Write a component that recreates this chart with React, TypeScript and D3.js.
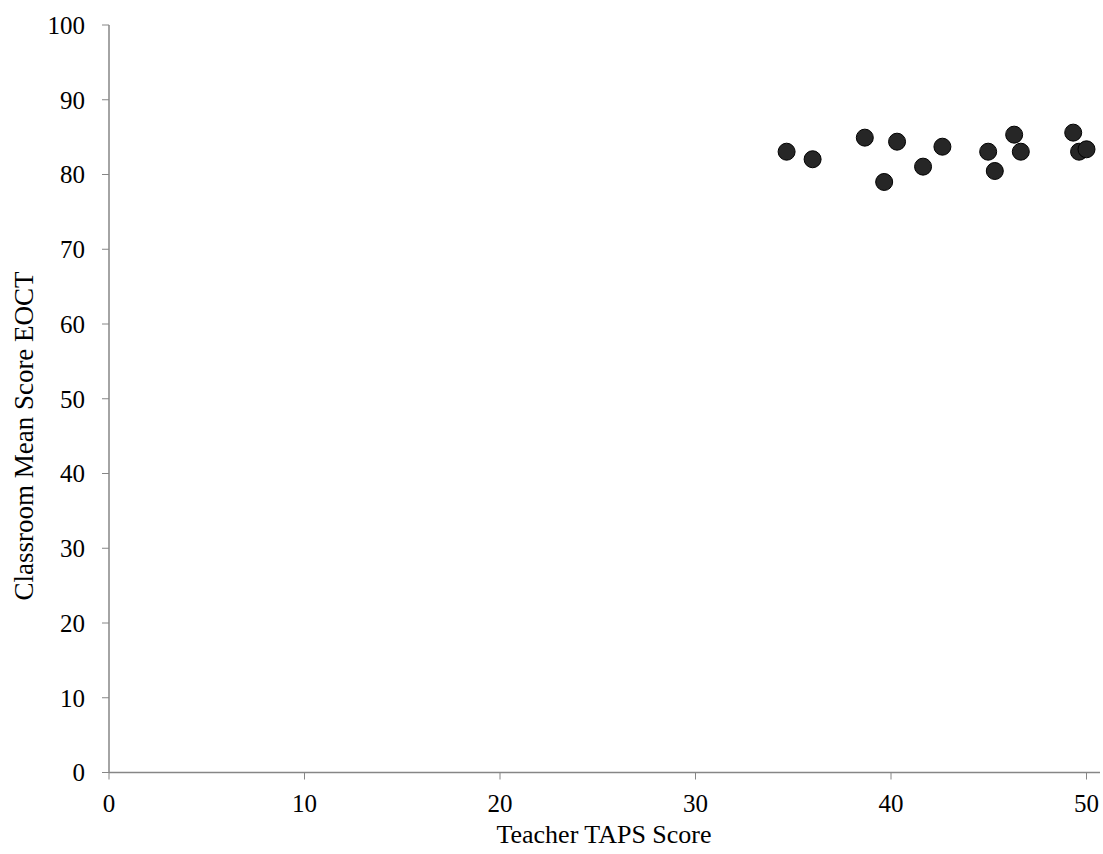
import React from "react";
import * as d3 from "d3";

const tapsScores = [34.66, 35.99, 38.66, 39.65, 40.31, 41.64, 42.63, 44.97, 45.31, 46.3, 46.64, 49.32, 49.62, 50.0];
const eoctScores = [83.05, 82.04, 84.93, 79.0, 84.39, 81.05, 83.72, 83.05, 80.47, 85.33, 83.05, 85.6, 83.05, 83.37];
const xTicks = [0, 10, 20, 30, 40, 50];
const yTicks = [0, 10, 20, 30, 40, 50, 60, 70, 80, 90, 100];
const xTitle = "Teacher TAPS Score";
const yTitle = "Classroom Mean Score EOCT";

const W = 1103;
const H = 854;
const FONT = "'Liberation Serif', 'Times New Roman', serif";

export default function App() {
  const x = d3.scaleLinear().domain([0, 50]).range([109, 1086.5]);
  const y = d3.scaleLinear().domain([0, 100]).range([772.5, 25]);
  const axisColor = "#868686";
  const pts = tapsScores.map((v, i) => ({ x: v, y: eoctScores[i] }));
  return (
    <svg width={W} height={H} style={{ position: "absolute", left: 0, top: 0, background: "#fff" }}>
      {/* y axis */}
      <line x1={x(0)} x2={x(0)} y1={y(100)} y2={y(0)} stroke={axisColor} strokeWidth={1.5} />
      {yTicks.map((t) => (
        <g key={"y" + t}>
          <line x1={x(0) - 7} x2={x(0)} y1={y(t)} y2={y(t)} stroke={axisColor} strokeWidth={1} />
          <text x={x(0) - 24} y={y(t)} dy="0.35em" textAnchor="end" fontFamily={FONT} fontSize={25} fill="#000">
            {t}
          </text>
        </g>
      ))}
      {/* x axis */}
      <line x1={x(0)} x2={1100} y1={y(0)} y2={y(0)} stroke={axisColor} strokeWidth={1.5} />
      {xTicks.map((t) => (
        <g key={"x" + t}>
          <line x1={x(t)} x2={x(t)} y1={y(0)} y2={y(0) + 7} stroke={axisColor} strokeWidth={1} />
          <text x={x(t)} y={y(0) + 39.5} textAnchor="middle" fontFamily={FONT} fontSize={25} fill="#000">
            {t}
          </text>
        </g>
      ))}
      <text x={604} y={843} textAnchor="middle" fontFamily={FONT} fontSize={26} fill="#000">
        {xTitle}
      </text>
      <text
        transform={`translate(33, 436) rotate(-90)`}
        textAnchor="middle"
        fontFamily={FONT}
        fontSize={27}
        fill="#000"
      >
        {yTitle}
      </text>
      {pts.map((p, i) => (
        <circle key={i} cx={x(p.x)} cy={y(p.y)} r={8.5} fill="#262626" stroke="#000" strokeWidth={1} />
      ))}
    </svg>
  );
}
